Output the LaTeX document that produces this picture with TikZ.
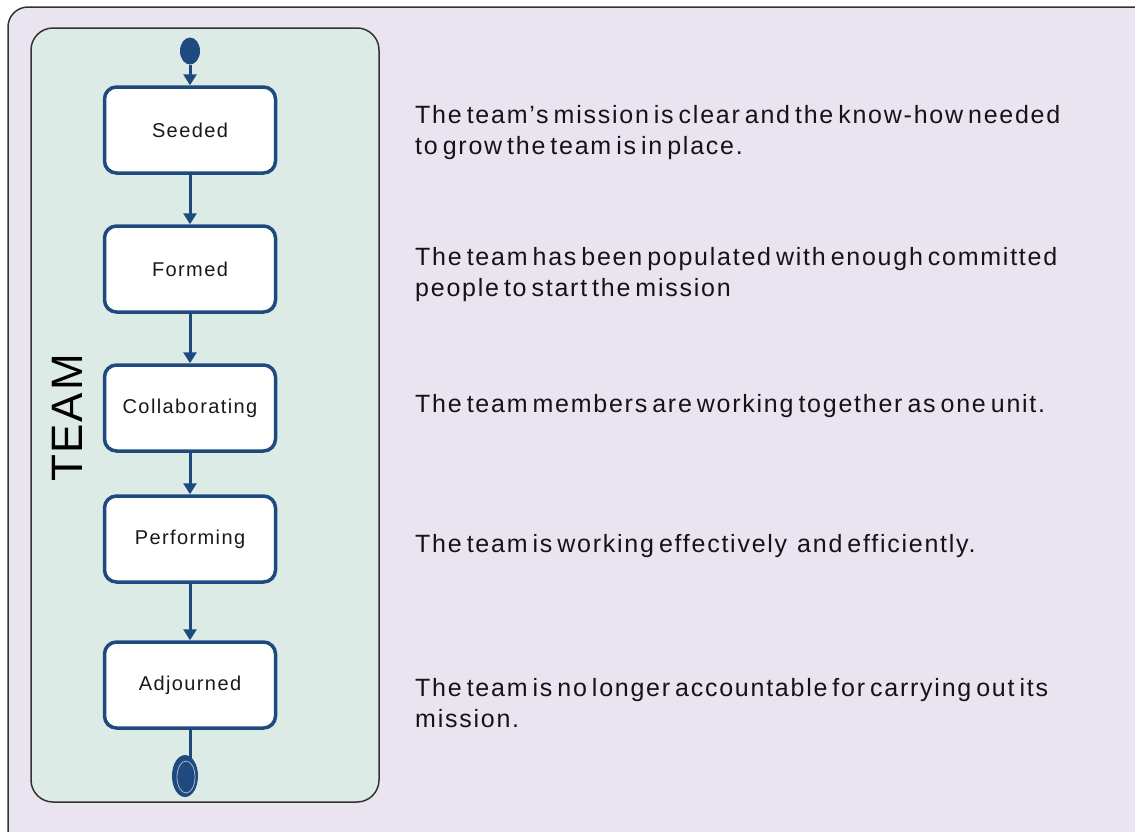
\documentclass[tikz,border=0pt]{standalone}
\usepackage{fontspec}
\setmainfont{Liberation Sans}
\usetikzlibrary{arrows.meta,shapes.geometric}
\definecolor{outerfill}{HTML}{E9E4F0}
\definecolor{innerfill}{HTML}{DDEBE6}
\definecolor{frameline}{HTML}{333333}
\definecolor{stateblue}{HTML}{1F4A80}
\newfontfamily\descfont[LetterSpace=7]{Liberation Sans}
\newfontfamily\boxfont[LetterSpace=7]{Liberation Sans}
\newfontfamily\teamfont[LetterSpace=4]{Liberation Sans}
\begin{document}
\begin{tikzpicture}[x=1pt,y=-1pt,
  stateb/.style={draw=stateblue,line width=3.5pt,rounded corners=12pt,fill=white,
    minimum width=171pt,minimum height=86pt,inner sep=0pt,
    font=\boxfont\fontsize{20}{22}\selectfont,text=black!90},
  flow/.style={draw=stateblue,line width=3pt,-{Triangle[width=13pt,length=11pt]}},
  desc/.style={anchor=west,align=left,inner sep=0pt,text=black!92,
    font=\descfont\fontsize{25}{31}\selectfont,
    execute at begin node={\spaceskip=5pt plus 1pt\relax}}]
\useasboundingbox (0,0) rectangle (1135,831);
\fill[white] (0,0) rectangle (1135,831);
\draw[frameline,fill=outerfill,line width=1.5pt,rounded corners=20pt] (8,7) rectangle (1160,860);
\draw[frameline,fill=innerfill,line width=1.5pt,rounded corners=22pt] (31,28) rectangle (379,802);
\node[rotate=90,font=\teamfont\fontsize{44}{46}\selectfont,text=black,inner sep=0pt] (team) at (67,418) {TEAM};
\node[ellipse,fill=stateblue,minimum width=20pt,minimum height=27pt,inner sep=0pt] (start) at (190,51) {};
\node[stateb] (s1) at (190,130) {Seeded};
\node[stateb] (s2) at (190,269) {Formed};
\node[stateb] (s3) at (190,408) {Collaborating};
\node[stateb] (s4) at (190,539) {Performing};
\node[stateb] (s5) at (190,685) {Adjourned};
\node[ellipse,fill=stateblue,minimum width=26pt,minimum height=42pt,inner sep=0pt] (end) at (185,776) {};
\draw[white!60!stateblue,line width=0.8pt] (186,777) ellipse (9pt and 16pt);
\draw[flow] (start) -- (s1);
\draw[flow] (s1) -- (s2);
\draw[flow] (s2) -- (s3);
\draw[flow] (s3) -- (s4);
\draw[flow] (s4) -- (s5);
\draw[stateblue,line width=3pt] (s5.south) -- (190,758);
\node[desc] (d1) at (415,133) {The team’s mission is clear and the know-how needed\\to grow the team is in place.};
\node[desc] (d2) at (415,275) {The team has been populated with enough committed\\people to start the mission};
\node[desc] (d3) at (415,406) {The team members are working together as one unit.};
\node[desc] (d4) at (415,546) {The team is working effectively \ and efficiently.};
\node[desc] (d5) at (415,703) {The team is no longer accountable for carrying out its\\mission.};
\end{tikzpicture}
\end{document}
